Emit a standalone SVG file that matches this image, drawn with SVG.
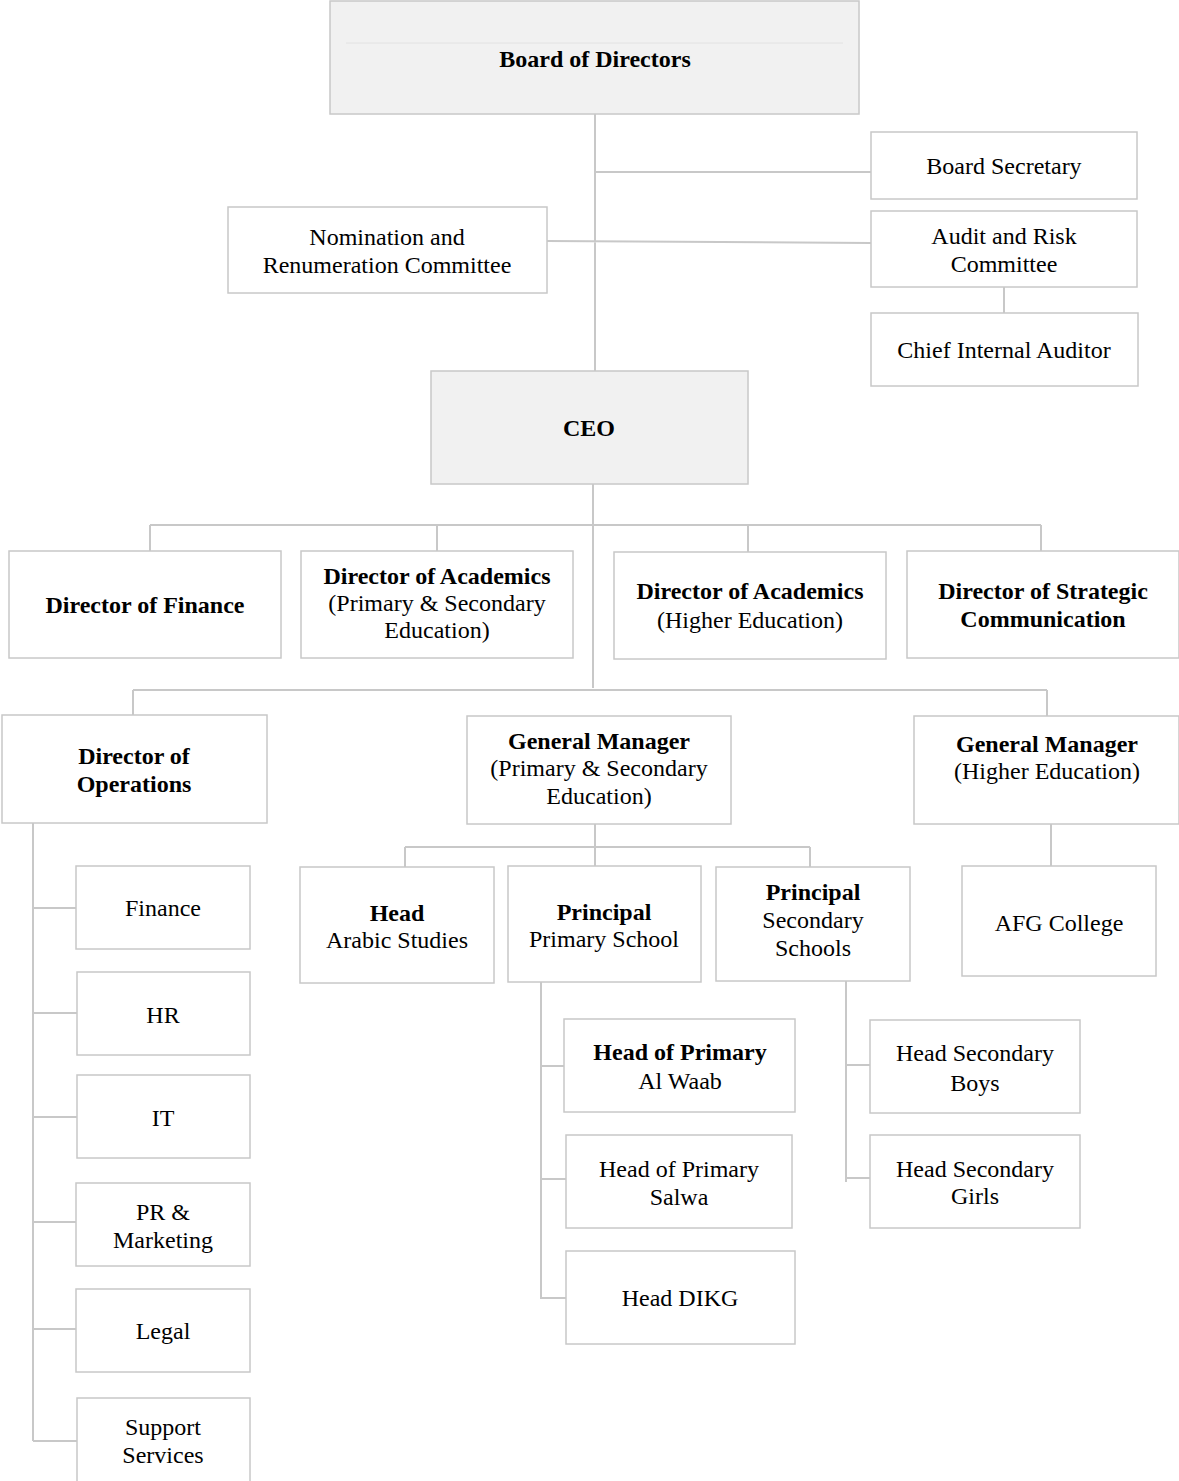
<svg xmlns="http://www.w3.org/2000/svg" width="1179" height="1481" viewBox="0 0 1179 1481">
<style>
.box{fill:#ffffff;stroke:#c8c8c8;stroke-width:1.5}
.grey{fill:#f1f1f1;stroke:#c8c8c8;stroke-width:1.5}
.t{font-family:"Liberation Serif","Times New Roman",serif;font-size:24px;fill:#000;text-anchor:middle}
.b{font-weight:bold}
.c{stroke:#c8c8c8;stroke-width:2;fill:none}
</style>
<rect width="1179" height="1481" fill="#ffffff"/>
<g id="connectors">
<path class="c" d="M595 114V371M595 172H871M547 241L871 243M1004 287V313"/>
<path class="c" d="M593 484V688M150 525H1041M150 525V551M437 525V551M748 525V552M1041 525V551"/>
<path class="c" d="M133 690H1047M133 690V715M1047 690V716"/>
<path class="c" d="M595 824V868M405 847H810M405 847V867M810 847V867M1051 824V866"/>
<path class="c" d="M33 823V1441M33 908H76M33 1013H77M33 1117H77M33 1222H76M33 1329H76M33 1441H77"/>
<path class="c" d="M541 982V1299M541 1066H564M541 1179H566M541 1298H566"/>
<path class="c" d="M846 981V1182M846 1065H870M846 1178H870"/>
</g>
<g id="board">
<rect class="grey" x="330" y="1" width="529" height="113"/>
<line x1="346" y1="43" x2="843" y2="43" stroke="#e2e2e2" stroke-width="1"/>
<text class="t b" x="595" y="67">Board of Directors</text>
</g>
<g id="board-secretary">
<rect class="box" x="871" y="132" width="266" height="67"/>
<text class="t" x="1004" y="174">Board Secretary</text>
</g>
<g id="nomination">
<rect class="box" x="228" y="207" width="319" height="86"/>
<text class="t" x="387" y="245">Nomination and</text>
<text class="t" x="387" y="273">Renumeration Committee</text>
</g>
<g id="audit">
<rect class="box" x="871" y="211" width="266" height="76"/>
<text class="t" x="1004" y="244">Audit and Risk</text>
<text class="t" x="1004" y="272">Committee</text>
</g>
<g id="chief-auditor">
<rect class="box" x="871" y="313" width="267" height="73"/>
<text class="t" x="1004" y="358">Chief Internal Auditor</text>
</g>
<g id="ceo">
<rect class="grey" x="431" y="371" width="317" height="113"/>
<text class="t b" x="589" y="436">CEO</text>
</g>
<g id="dir-finance">
<rect class="box" x="9" y="551" width="272" height="107"/>
<text class="t b" x="145" y="613">Director of Finance</text>
</g>
<g id="dir-acad-ps">
<rect class="box" x="301" y="551" width="272" height="107"/>
<text class="t b" x="437" y="584">Director of Academics</text>
<text class="t" x="437" y="611">(Primary &amp; Secondary</text>
<text class="t" x="437" y="638">Education)</text>
</g>
<g id="dir-acad-he">
<rect class="box" x="614" y="552" width="272" height="107"/>
<text class="t b" x="750" y="599">Director of Academics</text>
<text class="t" x="750" y="628">(Higher Education)</text>
</g>
<g id="dir-strategic">
<rect class="box" x="907" y="551" width="272" height="107"/>
<text class="t b" x="1043" y="599">Director of Strategic</text>
<text class="t b" x="1043" y="627">Communication</text>
</g>
<g id="dir-operations">
<rect class="box" x="2" y="715" width="265" height="108"/>
<text class="t b" x="134" y="764">Director of</text>
<text class="t b" x="134" y="792">Operations</text>
</g>
<g id="gm-ps">
<rect class="box" x="467" y="716" width="264" height="108"/>
<text class="t b" x="599" y="749">General Manager</text>
<text class="t" x="599" y="776">(Primary &amp; Secondary</text>
<text class="t" x="599" y="804">Education)</text>
</g>
<g id="gm-he">
<rect class="box" x="914" y="716" width="265" height="108"/>
<text class="t b" x="1047" y="752">General Manager</text>
<text class="t" x="1047" y="779">(Higher Education)</text>
</g>
<g id="head-arabic">
<rect class="box" x="300" y="867" width="194" height="116"/>
<text class="t b" x="397" y="921">Head</text>
<text class="t" x="397" y="948">Arabic Studies</text>
</g>
<g id="principal-primary">
<rect class="box" x="508" y="866" width="193" height="116"/>
<text class="t b" x="604" y="920">Principal</text>
<text class="t" x="604" y="947">Primary School</text>
</g>
<g id="principal-secondary">
<rect class="box" x="716" y="867" width="194" height="114"/>
<text class="t b" x="813" y="900">Principal</text>
<text class="t" x="813" y="928">Secondary</text>
<text class="t" x="813" y="956">Schools</text>
</g>
<g id="afg-college">
<rect class="box" x="962" y="866" width="194" height="110"/>
<text class="t" x="1059" y="931">AFG College</text>
</g>
<g id="finance">
<rect class="box" x="76" y="866" width="174" height="83"/>
<text class="t" x="163" y="916">Finance</text>
</g>
<g id="hr">
<rect class="box" x="77" y="972" width="173" height="83"/>
<text class="t" x="163" y="1023">HR</text>
</g>
<g id="it">
<rect class="box" x="77" y="1075" width="173" height="83"/>
<text class="t" x="163" y="1126">IT</text>
</g>
<g id="pr-marketing">
<rect class="box" x="76" y="1183" width="174" height="83"/>
<text class="t" x="163" y="1220">PR &amp;</text>
<text class="t" x="163" y="1248">Marketing</text>
</g>
<g id="legal">
<rect class="box" x="76" y="1289" width="174" height="83"/>
<text class="t" x="163" y="1339">Legal</text>
</g>
<g id="support-services">
<rect class="box" x="77" y="1398" width="173" height="90"/>
<text class="t" x="163" y="1435">Support</text>
<text class="t" x="163" y="1463">Services</text>
</g>
<g id="head-primary-alwaab">
<rect class="box" x="564" y="1019" width="231" height="93"/>
<text class="t b" x="680" y="1060">Head of Primary</text>
<text class="t" x="680" y="1089">Al Waab</text>
</g>
<g id="head-primary-salwa">
<rect class="box" x="566" y="1135" width="226" height="93"/>
<text class="t" x="679" y="1177">Head of Primary</text>
<text class="t" x="679" y="1205">Salwa</text>
</g>
<g id="head-dikg">
<rect class="box" x="566" y="1251" width="229" height="93"/>
<text class="t" x="680" y="1306">Head DIKG</text>
</g>
<g id="head-secondary-boys">
<rect class="box" x="870" y="1020" width="210" height="93"/>
<text class="t" x="975" y="1061">Head Secondary</text>
<text class="t" x="975" y="1091">Boys</text>
</g>
<g id="head-secondary-girls">
<rect class="box" x="870" y="1135" width="210" height="93"/>
<text class="t" x="975" y="1177">Head Secondary</text>
<text class="t" x="975" y="1204">Girls</text>
</g>
</svg>
